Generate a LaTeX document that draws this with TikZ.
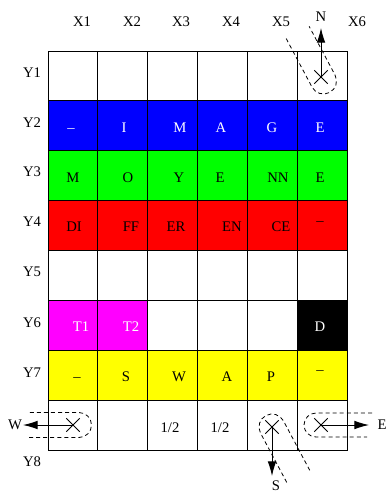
\documentclass[tikz,border=0pt]{standalone}
\usepackage{fontspec}
\setmainfont{Liberation Serif}
\usetikzlibrary{arrows.meta,shapes.misc}
\definecolor{cblue}{RGB}{0,0,255}
\definecolor{cgreen}{RGB}{0,255,0}
\definecolor{cred}{RGB}{255,0,0}
\definecolor{cmag}{RGB}{255,0,255}
\definecolor{cyel}{RGB}{255,255,0}
\definecolor{cblack}{RGB}{0,0,0}
\definecolor{cwhite}{RGB}{255,255,255}
\begin{document}
\begin{tikzpicture}[x=0.75pt,y=-0.75pt,
  cell/.style={draw=black,line width=0.7pt,minimum width=37.39pt,minimum height=37.42pt,inner sep=0pt,outer sep=0pt},
  lbl/.style={font=\fontsize{11}{13}\selectfont,inner sep=0pt,text height=7.3pt,text depth=0pt},
  wt/.style={lbl,text=white},
  capsule/.style={line width=0.6pt,dash pattern=on 3pt off 2.3pt},
  dir/.style={line width=0.7pt,-{Latex[length=11pt,width=6.5pt]}},
  xm/.style={cross out,draw,line width=0.6pt,minimum size=9.5pt,inner sep=0pt}]
\useasboundingbox (0,0) rectangle (387,493);
% cells
\foreach \j/\c in {1/cwhite,2/cblue,3/cgreen,4/cred,5/cwhite,7/cyel,8/cwhite}{
  \foreach \i in {1,...,6}{
    \node[cell,fill=\c] (c\i\j) at ({48+49.85*(\i-0.5)},{51+49.9*(\j-0.5)}) {};
  }
}
\foreach \i/\c in {1/cmag,2/cmag,3/cwhite,4/cwhite,5/cwhite,6/cblack}{
  \node[cell,fill=\c] (c\i6) at ({48+49.85*(\i-0.5)},{51+49.9*5.5}) {};
}
% axis labels
\foreach \t/\x in {X1/82,X2/132,X3/181,X4/231,X5/281,X6/357}
  \node[lbl] (\t) at (\x,22) {\t};
\foreach \t/\y in {Y1/73,Y2/123,Y3/172,Y4/222,Y5/272,Y6/323,Y7/373,Y8/462}
  \node[lbl] (\t) at (32,\y) {\t};
% row 2
\node[wt] (t12) at (71,128) {--};
\node[wt] (t22) at (124,128) {I};
\node[wt] (t32) at (180,128) {M};
\node[wt] (t42) at (221,128) {A};
\node[wt] (t52) at (272,128) {G};
\node[wt] (t62) at (320,128) {E};
% row 3
\node[lbl] (t13) at (73,178) {M};
\node[lbl] (t23) at (128,178) {O};
\node[lbl] (t33) at (179,178) {Y};
\node[lbl] (t43) at (220,178) {E};
\node[lbl] (t53) at (278,178) {NN};
\node[lbl] (t63) at (320,178) {E};
% row 4
\node[lbl] (t14) at (74,227) {DI};
\node[lbl] (t24) at (131,227) {FF};
\node[lbl] (t34) at (176,227) {ER};
\node[lbl] (t44) at (232,227) {EN};
\node[lbl] (t54) at (281,227) {CE};
\node[lbl] (t64) at (320,221) {--};
% row 6
\node[wt] (t16) at (81,327) {T1};
\node[wt] (t26) at (131,327) {T2};
\node[wt] (t66) at (320,327) {D};
% row 7
\node[lbl] (t17) at (77,377) {--};
\node[lbl] (t27) at (126,377) {S};
\node[lbl] (t37) at (179,377) {W};
\node[lbl] (t47) at (227,377) {A};
\node[lbl] (t57) at (271,377) {P};
\node[lbl] (t67) at (320,370) {--};
% row 8
\node[lbl] (t38) at (170,428) {1/2};
\node[lbl] (t48) at (220,428) {1/2};
% compass markers
\node[xm] (xN) at (321,77) {};
\node[xm] (xS) at (272,427) {};
\node[xm] (xW) at (73,425) {};
\node[xm] (xE) at (321,425) {};
\coordinate (tipN) at (321,28);
\coordinate (tipS) at (272,476);
\coordinate (tipW) at (23,425);
\coordinate (tipE) at (369,425);
\node[lbl] (N) at (321,17) {N};
\node[lbl] (S) at (276,486) {S};
\node[lbl] (W) at (15,425) {W};
\node[lbl] (E) at (382,425) {E};
\draw[dir] (xN.center) -- (tipN);
\draw[dir] (xS.center) -- (tipS);
\draw[dir] (xW.center) -- (tipW);
\draw[dir] (xE.center) -- (tipE);
% dashed capsules
\begin{scope}[shift={(323.5,81)},rotate=118]
  \draw[capsule] (55,-13) -- (0,-13) arc[start angle=-90,end angle=-270,radius=13] -- (55,13);
\end{scope}
\begin{scope}[shift={(272,427)},rotate=-62]
  \draw[capsule] (56,-13) -- (0,-13) arc[start angle=-90,end angle=-270,radius=13] -- (56,13);
\end{scope}
\begin{scope}[shift={(79,425)},rotate=180]
  \draw[capsule] (50,-12.5) -- (0,-12.5) arc[start angle=-90,end angle=-270,radius=12.5] -- (50,12.5);
\end{scope}
\begin{scope}[shift={(316,425)}]
  \draw[capsule] (56,-12) -- (0,-12) arc[start angle=-90,end angle=-270,radius=12] -- (51,12);
\end{scope}
\end{tikzpicture}
\end{document}
